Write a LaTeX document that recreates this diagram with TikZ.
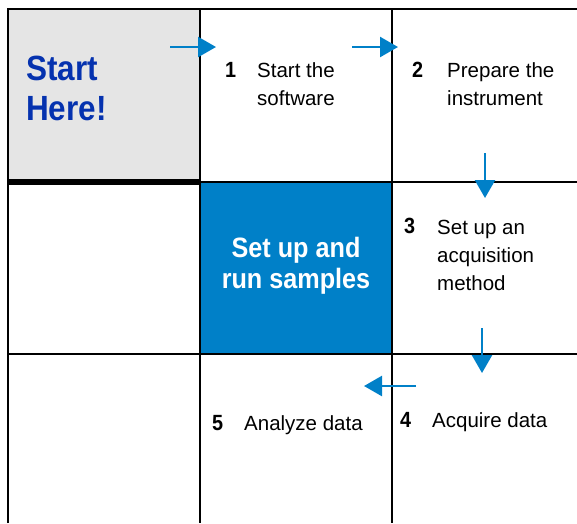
\documentclass[tikz,border=0pt]{standalone}
\usepackage{fontspec}
\setmainfont{Liberation Sans}
\newfontfamily\headfont{Liberation Sans}[FakeStretch=0.9]
\usetikzlibrary{arrows.meta}
\tikzset{>={Triangle[length=18pt,width=20pt]}}
\definecolor{flowblue}{RGB}{0,128,200}
\definecolor{titleblue}{RGB}{5,50,175}
\definecolor{cellgray}{RGB}{229,229,229}

\begin{document}
\begin{tikzpicture}[x=1pt,y=-1pt]
	\tikzset{edge/.style = {->, draw=flowblue, line width=2.5pt}}
	\tikzset{grid/.style = {draw=black, line width=1.3pt}}
	\tikzset{stepnum/.style = {anchor=base west, inner sep=0pt, font=\headfont\bfseries\fontsize{22}{28}\selectfont}}
	\tikzset{steptext/.style = {anchor=base west, inner sep=0pt, align=left, font=\fontsize{20.5}{28}\selectfont}}
	\tikzset{title/.style = {anchor=base west, inner sep=0pt, align=left, text=titleblue, font=\headfont\bfseries\fontsize{35}{40}\selectfont}}

	\useasboundingbox (0,0) rectangle (577,523);

	% cells
	\fill[cellgray] (8,9) rectangle (200,182);
	\fill[flowblue] (200,182) rectangle (392,354);
	\draw[grid] (8,523) -- (8,9) -- (577,9);
	\draw[grid] (200,9) -- (200,523);
	\draw[grid] (392,9) -- (392,523);
	\draw[grid] (8,182) -- (577,182);
	\draw[grid] (8,354) -- (577,354);
	\draw[line width=5.5pt] (8,182) -- (200,182);

	% texts (base = last line)
	\node[title] (start) at (26,120) {Start\\Here!};
	\node[anchor=base, inner sep=0pt, align=center, text=white, font=\headfont\bfseries\fontsize{28}{31}\selectfont] (run) at (296,288) {Set up and\\run samples};

	\node[stepnum] (n1) at (225,77) {1};
	\node[steptext] (t1) at (257,105) {Start the\\software};
	\node[stepnum] (n2) at (412,77) {2};
	\node[steptext] (t2) at (447,105) {Prepare the\\instrument};
	\node[stepnum] (n3) at (404,233) {3};
	\node[steptext] (t3) at (437,290) {Set up an\\acquisition\\method};
	\node[stepnum] (n4) at (400,427) {4};
	\node[steptext] (t4) at (432,427) {Acquire data};
	\node[stepnum] (n5) at (212,430) {5};
	\node[steptext] (t5) at (244,430) {Analyze data};

	% arrows
	\coordinate (a1s) at (170,47);
	\coordinate (a1e) at (216,47);
	\coordinate (a2s) at (352,47);
	\coordinate (a2e) at (398,47);
	\coordinate (a3s) at (485,153);
	\coordinate (a3e) at (485,198);
	\coordinate (a4s) at (482,328);
	\coordinate (a4e) at (482,373);
	\coordinate (a5s) at (416,386);
	\coordinate (a5e) at (364,386);

	\draw[edge] (a1s) -- (a1e);
	\draw[edge] (a2s) -- (a2e);
	\draw[edge] (a3s) -- (a3e);
	\draw[edge] (a4s) -- (a4e);
	\draw[edge] (a5s) -- (a5e);
\end{tikzpicture}
\end{document}
